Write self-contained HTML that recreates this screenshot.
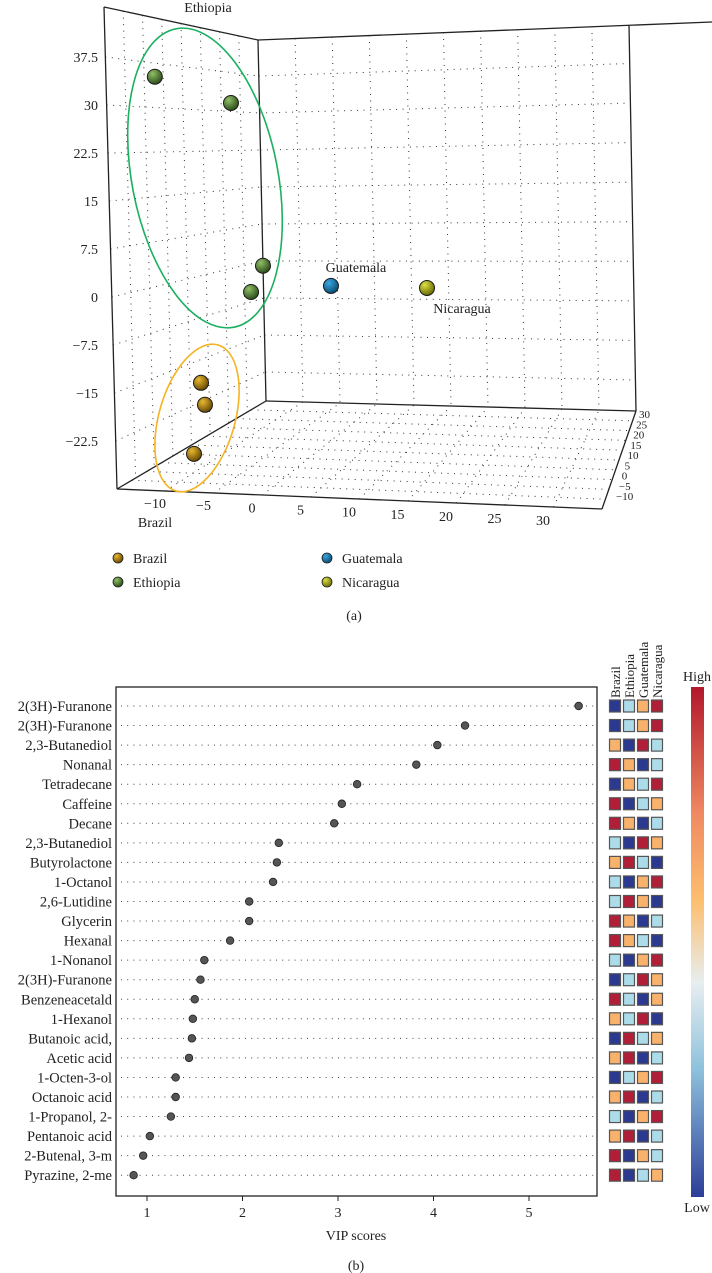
<!DOCTYPE html>
<html><head><meta charset="utf-8"><style>
html,body{margin:0;padding:0;background:#fff;}
svg{display:block;font-family:"Liberation Serif",serif;}
</style></head><body>
<svg id="s" width="712" height="1273" viewBox="0 0 712 1273" xmlns="http://www.w3.org/2000/svg">
<defs>
<radialGradient id="gE" cx="35%" cy="30%" r="70%"><stop offset="0" stop-color="#8fc067"/><stop offset="1" stop-color="#2f4f1c"/></radialGradient>
<radialGradient id="gB" cx="35%" cy="30%" r="70%"><stop offset="0" stop-color="#e8b830"/><stop offset="1" stop-color="#6b4c05"/></radialGradient>
<radialGradient id="gG" cx="35%" cy="30%" r="70%"><stop offset="0" stop-color="#3aa7e0"/><stop offset="1" stop-color="#0b4f78"/></radialGradient>
<radialGradient id="gN" cx="35%" cy="30%" r="70%"><stop offset="0" stop-color="#dde040"/><stop offset="1" stop-color="#6b6d0a"/></radialGradient>
<linearGradient id="cbar" x1="0" y1="0" x2="0" y2="1">
<stop offset="0" stop-color="#b2182b"/><stop offset="0.25" stop-color="#ef8a62"/><stop offset="0.42" stop-color="#fdbf6f"/><stop offset="0.58" stop-color="#e7eef0"/><stop offset="0.75" stop-color="#8ec1dc"/><stop offset="1" stop-color="#2c3e98"/>
</linearGradient>
</defs>
<g id="p3d"></g>
<g id="vip"></g>
</svg>
<script>
// ---------- 3D scatter data ----------
const groups = ["Brazil","Ethiopia","Guatemala","Nicaragua"];
const ptX = [-8.64,-8.23,-9.36,-13.4,-5.55,-2.25,-3.48,4.76,14.66];
const ptY = [0,0,0,0,0,0,0,0,0];
const ptZ = [-18.0,-21.4,-29.1,29.3,25.7,0.6,-3.56,-2.1,-1.8];
const ptG = [0,0,0,1,1,1,1,2,3];
const zTicks = ["37.5","30","22.5","15","7.5","0","−7.5","−15","−22.5"];
const zTickVals = [37.5,30,22.5,15,7.5,0,-7.5,-15,-22.5];
const xTicks = ["−10","−5","0","5","10","15","20","25","30"];
const xTickVals = [-10,-5,0,5,10,15,20,25,30];
const yTicks = ["30","25","20","15","10","5","0","−5","−10"];
const yTickVals = [30,25,20,15,10,5,0,-5,-10];

// ---------- VIP data ----------
const compounds = ["2(3H)-Furanone","2(3H)-Furanone","2,3-Butanediol","Nonanal","Tetradecane","Caffeine","Decane","2,3-Butanediol","Butyrolactone","1-Octanol","2,6-Lutidine","Glycerin","Hexanal","1-Nonanol","2(3H)-Furanone","Benzeneacetald","1-Hexanol","Butanoic acid,","Acetic acid","1-Octen-3-ol","Octanoic acid","1-Propanol, 2-","Pentanoic acid","2-Butenal, 3-m","Pyrazine, 2-me"];
const vipScores = [5.52,4.33,4.04,3.82,3.2,3.04,2.96,2.38,2.36,2.32,2.07,2.07,1.87,1.6,1.56,1.5,1.48,1.47,1.44,1.3,1.3,1.25,1.03,0.96,0.86];
const vipTicks = [1,2,3,4,5];
const heatCols = ["Brazil","Ethiopia","Guatemala","Nicaragua"];
const heatRows = ["BLOR","BLOR","OBRL","ROBL","BOLR","RBLO","ROBL","LBRO","ORLB","LBOR","LROB","ROBL","ROLB","LBOR","BLRO","RLBO","OLRB","BRLO","ORBL","BLOR","ORBL","LBOR","ORBL","RBOL","RBLO"];

const NS="http://www.w3.org/2000/svg";
function mk(parent,tag,attrs,text){const e=document.createElementNS(NS,tag);for(const k in attrs)e.setAttribute(k,attrs[k]);if(text!==undefined)e.textContent=text;parent.appendChild(e);return e;}

// ---------- 3D plot ----------
const g3=document.getElementById('p3d');
const lerp=(a,b,t)=>a+(b-a)*t;
const FL=[117,489],FT=[104,7],BT=[258,40],BB=[266,401],RB=[636,411],RF=[602,509],RT=[629,25];
const dot='1 5.5', gc='#333';
function line(p,q,dash,w,name){const l=mk(g3,'line',{x1:p[0],y1:p[1],x2:q[0],y2:q[1],stroke:dash?gc:'#222','stroke-width':dash?1:1.3,'stroke-dasharray':dash?dot:'none'});

return l;}
const yFront=z=>57+(37.5-z)/7.5*48;
const yBack=z=>76+(37.5-z)/7.5*37;
// left wall horizontal grid
for(const z of zTickVals){const yf=yFront(z),yb=yBack(z);const xf=lerp(104,117,(yf-7)/482),xb=lerp(258,266,(yb-40)/361);line([xf,yf],[xb,yb],true,1,'left-wall-gridline');}
// left wall vertical grid
for(let i=1;i<8;i++){const t=i/8;line([lerp(FT[0],BT[0],t),lerp(FT[1],BT[1],t)],[lerp(FL[0],BB[0],t),lerp(FL[1],BB[1],t)],true,1,'left-wall-gridline');}
// back wall horizontal grid
for(const z of zTickVals){const yb=yBack(z);const t=(yb-40)/361;const yr=lerp(25,411,t);line([lerp(258,266,t),yb],[lerp(629,636,t),yr],true,1,'back-wall-gridline');}
// back wall vertical grid
for(let i=1;i<10;i++){const t=i/10;line([lerp(BT[0],RT[0],t),lerp(BT[1],RT[1],t)],[lerp(BB[0],RB[0],t),lerp(BB[1],RB[1],t)],true,1,'back-wall-gridline');}
// floor grid
for(let i=1;i<10;i++){const t=i/10;line([lerp(FL[0],BB[0],t),lerp(FL[1],BB[1],t)],[lerp(RF[0],RB[0],t),lerp(RF[1],RB[1],t)],true,1,'floor-gridline');}
for(let i=1;i<10;i++){const t=i/10;line([lerp(FL[0],RF[0],t),lerp(FL[1],RF[1],t)],[lerp(BB[0],RB[0],t),lerp(BB[1],RB[1],t)],true,1,'floor-gridline');}
// frame
line(FT,FL,false,1,'z-axis-line');line(FT,BT,false,1,'frame-edge');line(BT,BB,false,1,'frame-edge');
line(FL,BB,false,1,'frame-edge');line(FL,RF,false,1,'x-axis-line');line(RF,RB,false,1,'y-axis-line');
line(BB,RB,false,1,'frame-edge');line(BT,[712,22],false,1,'frame-edge');line(RT,RB,false,1,'frame-edge');
// z tick labels
zTickVals.forEach((z,i)=>{const t=mk(g3,'text',{x:98,y:yFront(z)+5,'text-anchor':'end','font-size':14,fill:'#222'},zTicks[i]);

});
// x tick labels
const xPos=v=>155+(v+10)*9.7, xLabY=v=>503+(v+10)*0.43;
xTickVals.forEach((v,i)=>{const t=mk(g3,'text',{x:xPos(v),y:xLabY(v)+5,'text-anchor':'middle','font-size':14,fill:'#222'},xTicks[i]);

});
// y tick labels
yTickVals.forEach((v,i)=>{const t=mk(g3,'text',{x:lerp(620,643,(v+10)/40)-4,y:lerp(496,414,(v+10)/40)+4,'font-size':11,fill:'#222'},yTicks[i]);

});
const t0=mk(g3,'text',{x:155,y:527,'text-anchor':'middle','font-size':14,fill:'#222'},'Brazil');


const t1=mk(g3,'text',{x:208,y:12,'text-anchor':'middle','font-size':14,fill:'#222'},'Ethiopia');


// ellipses
const e1=mk(g3,'ellipse',{cx:205,cy:178,rx:73,ry:152,transform:'rotate(-11 205 178)',fill:'none',stroke:'#1bb060','stroke-width':1.6});


const e2=mk(g3,'ellipse',{cx:197,cy:418,rx:38,ry:76,transform:'rotate(16 197 418)',fill:'none',stroke:'#f5b323','stroke-width':1.6});


// projection
function proj(X,Y,Z){const sx=117+(X+14)*9.7+(Y+16)*2.0;const sy=489+(X+14)*0.4-(Y+16)*1.95-(Z+30)*6.43;return [sx,sy];}
const grads=['url(#gB)','url(#gE)','url(#gG)','url(#gN)'];
ptX.forEach((x,i)=>{const p=proj(x,ptY[i],ptZ[i]);const c=mk(g3,'circle',{cx:p[0],cy:p[1],r:7.5,fill:grads[ptG[i]],stroke:'#1a1a1a','stroke-width':1});

});
const pg=proj(ptX[7],ptY[7],ptZ[7]),pn=proj(ptX[8],ptY[8],ptZ[8]);
const t2=mk(g3,'text',{x:pg[0]+25,y:pg[1]-14,'text-anchor':'middle','font-size':14,fill:'#222'},'Guatemala');


const t3=mk(g3,'text',{x:pn[0]+35,y:pn[1]+25,'text-anchor':'middle','font-size':14,fill:'#222'},'Nicaragua');


// legend
const legX=[118,118,327,327],legY=[558,582,558,582];
groups.forEach((gname,i)=>{const c=mk(g3,'circle',{cx:legX[i],cy:legY[i],r:5,fill:grads[i],stroke:'#222','stroke-width':0.8});


const t=mk(g3,'text',{x:legX[i]+15,y:legY[i]+5,'font-size':14,fill:'#222'},gname);

});
const ta=mk(g3,'text',{x:354,y:620,'text-anchor':'middle','font-size':14,fill:'#222'},'(a)');



// ---------- VIP chart ----------
const gv=document.getElementById('vip');
const L=116,R=597,T=687,B=1196;
const xs=v=>147+(v-1)*95.5;
const ys=i=>706+i*19.55;
const box=mk(gv,'rect',{x:L,y:T,width:R-L,height:B-T,fill:'none',stroke:'#222','stroke-width':1.3});


compounds.forEach((c,i)=>{
 const gl=mk(gv,'line',{x1:L+5,y1:ys(i),x2:R-2,y2:ys(i),stroke:'#444','stroke-width':1,'stroke-dasharray':'1 5.2'});
 
 
 const t=mk(gv,'text',{x:L-4,y:ys(i)+5,'text-anchor':'end','font-size':14.5,fill:'#222'},c);
 
 
 const d=mk(gv,'circle',{cx:xs(vipScores[i]),cy:ys(i),r:3.8,fill:'#555',stroke:'#222','stroke-width':0.8});
 
 
});
vipTicks.forEach(v=>{
 const tk=mk(gv,'line',{x1:xs(v),y1:B,x2:xs(v),y2:B+5,stroke:'#222','stroke-width':1});
 
 
 const t=mk(gv,'text',{x:xs(v),y:B+21,'text-anchor':'middle','font-size':14,fill:'#222'},String(v));
 
 
});
const tv=mk(gv,'text',{x:356,y:1240,'text-anchor':'middle','font-size':14,fill:'#222'},'VIP scores');


const tb=mk(gv,'text',{x:356,y:1270,'text-anchor':'middle','font-size':14,fill:'#222'},'(b)');


// heatmap
const colorMap={B:'#2b3990',L:'#acdcea',O:'#f9b26b',R:'#b01f37'};
const hx=[615,629,643,657];
heatCols.forEach((c,j)=>{const t=mk(gv,'text',{x:0,y:0,'font-size':13,fill:'#222',transform:`translate(${hx[j]+5},698) rotate(-90)`},c);

});
heatRows.forEach((row,i)=>{for(let j=0;j<4;j++){const r=mk(gv,'rect',{x:hx[j]-5.5,y:ys(i)-6,width:11,height:12,fill:colorMap[row[j]],stroke:'#555','stroke-width':1.2});

}});
const cb=mk(gv,'rect',{x:691,y:687,width:13,height:510,fill:'url(#cbar)'});


const th=mk(gv,'text',{x:697,y:681,'text-anchor':'middle','font-size':14,fill:'#222'},'High');


const tl=mk(gv,'text',{x:697,y:1212,'text-anchor':'middle','font-size':14,fill:'#222'},'Low');


</script>
</body></html>
